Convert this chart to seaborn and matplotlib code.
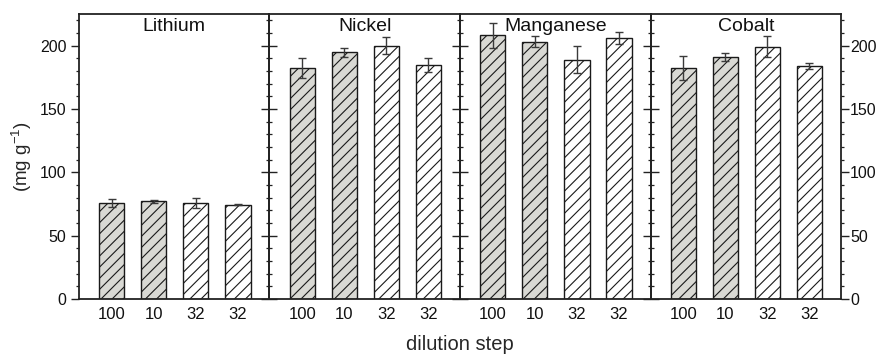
"""Adsorption capacity per metal and dilution step (four side-by-side panels)."""
import matplotlib
matplotlib.use("Agg")
import matplotlib.pyplot as plt
from matplotlib.ticker import MultipleLocator
import pandas as pd
import seaborn as sns

# ── data ──────────────────────────────────────────────────────────────────
METALS = ["Lithium", "Nickel", "Manganese", "Cobalt"]
STEP_LABELS = ["100", "10", "32", "32"]
FILL_GROUP = ["gray", "gray", "white", "white"]

lithium_vals = [75.8, 77.0, 75.6, 74.4]
lithium_err = [3.0, 1.0, 3.8, 0.6]
nickel_vals = [182.4, 194.8, 200.0, 184.8]
nickel_err = [7.8, 3.5, 7.0, 5.6]
manganese_vals = [208.2, 203.0, 189.0, 206.0]
manganese_err = [10.0, 4.3, 10.8, 4.9]
cobalt_vals = [182.4, 191.0, 199.0, 183.8]
cobalt_err = [9.3, 2.8, 8.3, 2.5]

VALUES = [lithium_vals, nickel_vals, manganese_vals, cobalt_vals]
ERRORS = [lithium_err, nickel_err, manganese_err, cobalt_err]

PALETTE = {"gray": "#d9d9d4", "white": "white"}


def main() -> None:
    sns.set_theme(style="ticks")
    plt.rcParams["font.family"] = ["Liberation Sans", "DejaVu Sans"]
    plt.rcParams["mathtext.default"] = "regular"
    plt.rcParams["hatch.linewidth"] = 0.8
    plt.rcParams["hatch.color"] = "black"

    fig, axes = plt.subplots(1, 4, figsize=(8.77, 3.58), dpi=100)
    fig.subplots_adjust(left=0.090, right=0.959, bottom=0.165, top=0.961, wspace=0)

    for i, (ax, metal, vals, errs) in enumerate(zip(axes, METALS, VALUES, ERRORS)):
        ax.set_facecolor("none")
        df = pd.DataFrame({"pos": range(len(vals)), "value": vals, "fill": FILL_GROUP})
        sns.barplot(data=df, x="pos", y="value", hue="fill", palette=PALETTE,
                    width=0.6, dodge=False, errorbar=None, legend=False,
                    saturation=1, hatch="///", edgecolor="#1a1a1a",
                    linewidth=1.0, ax=ax)
        ax.errorbar(df["pos"], vals, yerr=errs, fmt="none", ecolor="#3a3a3a",
                    elinewidth=1.0, capsize=3, capthick=1.0, zorder=3)

        ax.set_xlim(-0.78, 3.75)
        ax.set_ylim(0, 225)
        ax.set_xticks(range(len(STEP_LABELS)))
        ax.set_xticklabels(STEP_LABELS)
        ax.set_xlabel("")
        ax.set_ylabel("")
        ax.yaxis.set_major_locator(MultipleLocator(50))
        ax.yaxis.set_minor_locator(MultipleLocator(10))

        for sp in ax.spines.values():
            sp.set_visible(True)
            sp.set_linewidth(1.3)
            sp.set_color("#222222")

        ax.tick_params(axis="x", length=0, labelsize=12, pad=6, colors="#111111")
        ax.tick_params(axis="y", which="major", direction="out", length=5.5,
                       width=1.0, left=True, right=True, labelsize=11.5,
                       colors="#222222", labelcolor="#111111")
        ax.tick_params(axis="y", which="minor", direction="out", length=2.5,
                       width=0.9, left=True, right=True, colors="#222222")
        ax.tick_params(axis="y", labelleft=(i == 0), labelright=(i == 3))
        if i == 3:
            ax.tick_params(axis="y", which="major", pad=1)

        ax.text(0.5, 0.985, metal, transform=ax.transAxes, ha="center", va="top",
                fontsize=14, color="#111111", zorder=5)

    axes[0].set_ylabel("(mg g$^{-1}$)", fontsize=13.5, labelpad=4)
    fig.text(0.5245, 0.01, "dilution step", ha="center", va="bottom", fontsize=14.5)

    fig.savefig("out.png", dpi=100)
    plt.close(fig)


if __name__ == "__main__":
    main()
